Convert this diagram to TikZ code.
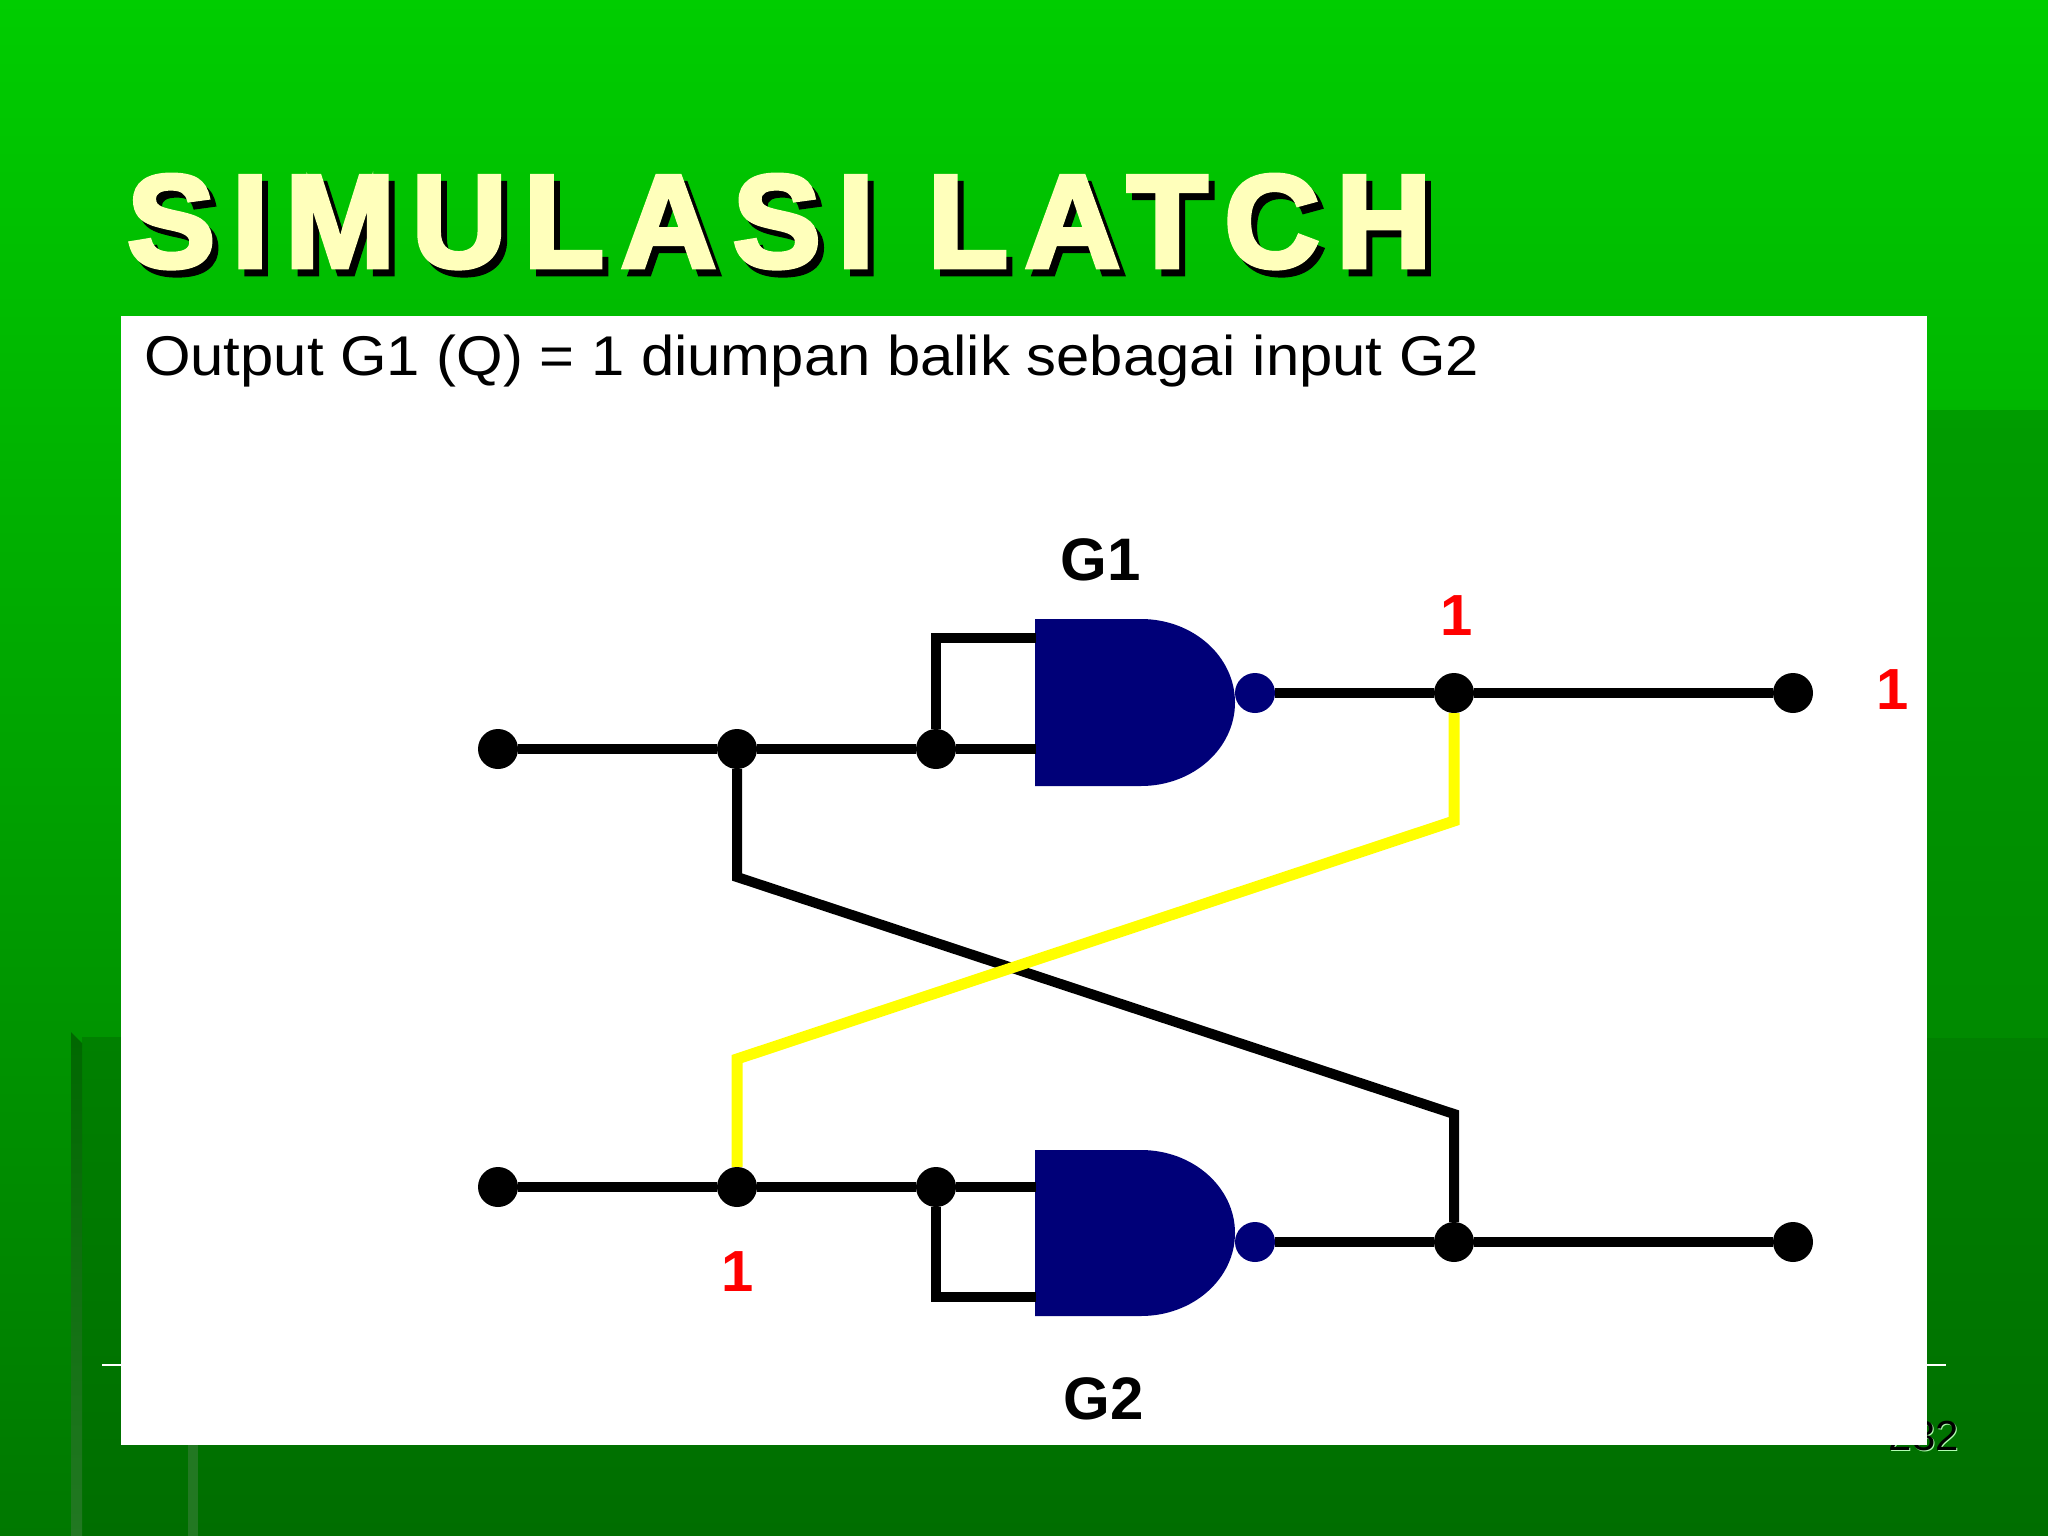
\documentclass[tikz,border=0pt]{standalone}
\usepackage{fontspec}
\usepackage{xcolor}
\setmainfont{Liberation Sans}
\newfontfamily\titlefont[LetterSpace=12.6,FakeBold=3.5]{Liberation Sans Bold}
\usetikzlibrary{shapes,positioning,calc}
\definecolor{slidetop}{RGB}{0,205,0}
\definecolor{slidemid}{RGB}{0,168,0}
\definecolor{slidelow}{RGB}{0,120,0}
\definecolor{panelhigh}{RGB}{0,156,0}
\definecolor{panelmid}{RGB}{0,138,0}
\definecolor{panellow}{RGB}{0,128,0}
\definecolor{panelend}{RGB}{0,110,0}
\definecolor{titleyellow}{RGB}{255,255,187}
\definecolor{gateblue}{RGB}{0,0,120}
\definecolor{wireyellow}{RGB}{255,255,0}
\definecolor{barlight}{RGB}{34,120,34}
\definecolor{bardark}{RGB}{0,104,0}
\tikzset{
    wire/.style={line width=10pt,black,line join=miter},
    wireon/.style={line width=11pt,wireyellow,line join=miter},
    joint/.style={circle,fill=black,inner sep=0pt,minimum size=40pt},
    bubble/.style={circle,fill=gateblue,inner sep=0pt,minimum size=40pt},
    gatename/.style={font=\fontsize{60}{60}\selectfont\bfseries,black},
    highval/.style={font=\fontsize{58}{58}\selectfont\bfseries,red},
    titletext/.style={font=\fontsize{132}{132}\selectfont\titlefont,inner sep=0pt,anchor=base west},
}

\begin{document}
\begin{tikzpicture}[x=1pt,y=-1pt]
        \useasboundingbox (0,0) rectangle (2048,1536);
        \shade[top color=slidetop,middle color=slidemid,bottom color=slidelow] (0,0) rectangle (2048,1536);
        \shade[top color=panellow,bottom color=panelend] (82,1037) rectangle (2048,1536); % lower panel
        \shade[top color=panelhigh,bottom color=panelmid] (1927,410) rectangle (2048,1037); % right panel
        \shade[top color=bardark,bottom color=barlight] (71,1032) -- (82,1043) -- (82,1536) -- (71,1536) -- cycle;
        \fill[barlight] (188,1445) rectangle (198,1536);
        \draw[white,line width=2pt] (102,1365) -- (1946,1365);
        \node[anchor=base east,inner sep=0pt,white!70!green,font=\fontsize{42}{42}\selectfont] (pagelight) at (1960,1451) {232};
        \node[anchor=base east,inner sep=0pt,black,font=\fontsize{42}{42}\selectfont] (pagenum) at (1959,1450) {232};

        % title
        \node[titletext,black] (titleshadow) at (133,274) {SIMULASI LATCH};
        \node[titletext,titleyellow] (title) at (127,267) {SIMULASI LATCH};

        \fill[white] (121,316) rectangle (1927,1445);
        \node[anchor=base west,inner sep=0pt,xscale=1.068,font=\fontsize{56}{56}\selectfont] (caption) at (144,375) {Output G1 (Q) = 1 diumpan balik sebagai input G2};

        % gates
        \fill[gateblue] (1035,619) -- (1141,619) arc[start angle=90,end angle=-90,x radius=94pt,y radius=83.5pt] -- (1035,786) -- cycle;
        \fill[gateblue] (1035,1150) -- (1141,1150) arc[start angle=90,end angle=-90,x radius=94pt,y radius=83pt] -- (1035,1316) -- cycle;
        \node[bubble] (bubbleup) at (1255,693) {};
        \node[bubble] (bubbledown) at (1255,1242) {};

        \node[joint] (inup) at (498,749) {};
        \node[joint] (crossup) at (737,749) {};
        \node[joint] (tieup) at (936,749) {};
        \node[joint] (qjoint) at (1454,693) {};
        \node[joint] (qend) at (1793,693) {};
        \node[joint] (indown) at (498,1187) {};
        \node[joint] (crossdown) at (737,1187) {};
        \node[joint] (tiedown) at (936,1187) {};
        \node[joint] (njoint) at (1454,1242) {};
        \node[joint] (nend) at (1793,1242) {};

        \coordinate (pinupa) at (1036,638);
        \coordinate (pinupb) at (1036,749);
        \coordinate (pindowna) at (1036,1187);
        \coordinate (pindownb) at (1036,1297);
        \coordinate (blackbenda) at (737,877);
        \coordinate (blackbendb) at (1454,1114);
        \coordinate (yellowbenda) at (1454,821);
        \coordinate (yellowbendb) at (737,1059);

        \draw[wire] (inup) -- (crossup);
        \draw[wire] (crossup) -- (tieup);
        \draw[wire] (tieup) -- (pinupb);
        \draw[wire] (tieup) |- (pinupa);
        \draw[wire] (bubbleup) -- (qjoint);
        \draw[wire] (qjoint) -- (qend);
        \draw[wire] (indown) -- (crossdown);
        \draw[wire] (crossdown) -- (tiedown);
        \draw[wire] (tiedown) -- (pindowna);
        \draw[wire] (tiedown) |- (pindownb);
        \draw[wire] (bubbledown) -- (njoint);
        \draw[wire] (njoint) -- (nend);
        \draw[wire] (crossup) -- (blackbenda) -- (blackbendb) -- (njoint);
        \draw[wireon] (qjoint) -- (yellowbenda) -- (yellowbendb) -- (crossdown);

        \node[gatename] (gone) at (1101,560) {G1};
        \node[gatename] (gtwo) at (1104,1399) {G2};
        \node[highval] (valq) at (1457,616) {1};
        \node[highval] (valend) at (1893,690) {1};
        \node[highval] (valcross) at (738,1272) {1};
    \end{tikzpicture}
\end{document}
